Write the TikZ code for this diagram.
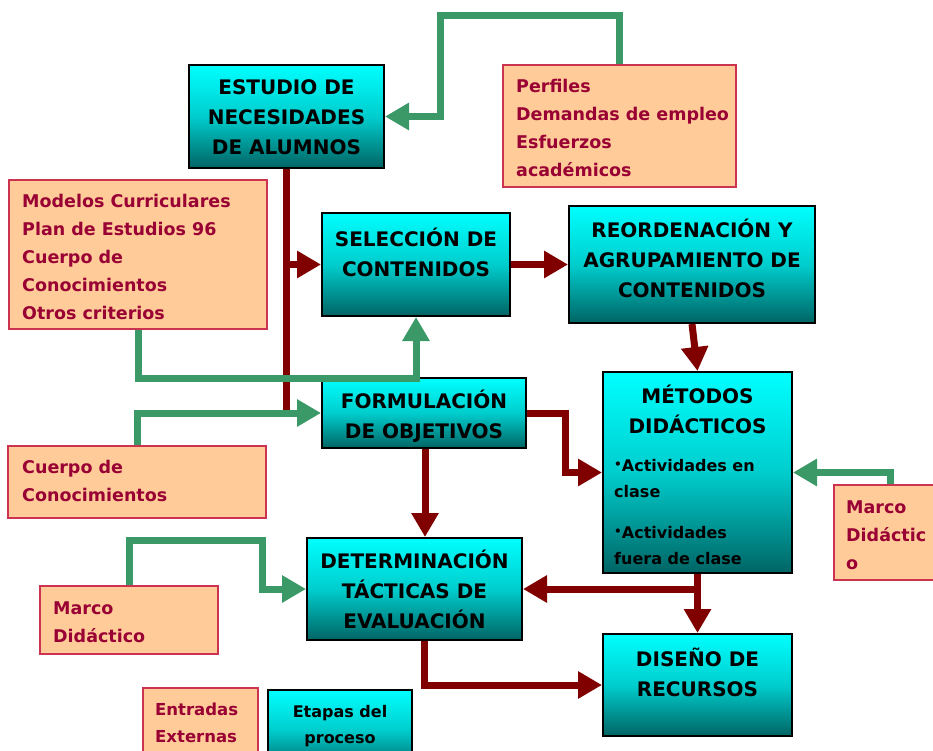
\documentclass[tikz,border=0pt]{standalone}
\usepackage{fontspec}
\setmainfont{DejaVu Sans}
\usetikzlibrary{arrows.meta}
\definecolor{gr}{RGB}{58,153,102}
\definecolor{dr}{RGB}{128,0,0}
\definecolor{orf}{RGB}{255,204,153}
\definecolor{ord}{RGB}{204,51,80}
\definecolor{ortx}{RGB}{153,0,51}
\definecolor{tealb}{RGB}{0,100,100}
\definecolor{tealm}{RGB}{0,205,205}
\tikzset{
  cbox/.style={draw=black, line width=2pt, top color=cyan, bottom color=tealb, middle color=tealm, inner sep=0pt},
  obox/.style={draw=ord, line width=1.2pt, fill=orf, inner sep=0pt},
  ctext/.style={font=\bfseries\fontsize{20}{30}\selectfont, align=center, text=black, inner sep=0pt},
  otext/.style={font=\bfseries\fontsize{17.5}{28}\selectfont, align=left, text=ortx, inner sep=0pt, anchor=west},
  garrow/.style={draw=gr, line width=7pt, -{Triangle[length=24pt,width=26pt]}},
  rarrow/.style={draw=dr, line width=7pt, -{Triangle[length=24pt,width=26pt]}},
  rline/.style={draw=dr, line width=7pt},
}
\newcommand\bul{\raisebox{3pt}{\fontsize{12}{12}\selectfont•}}
\begin{document}
\begin{tikzpicture}[x=1pt,y=-1pt]
\useasboundingbox (0,0) rectangle (933,751);
\clip (0,0) rectangle (933,751);
% boxes
\node[cbox, minimum width=195pt, minimum height=103pt] (est) at (286.5,116.5) {};
\node[obox, minimum width=233pt, minimum height=122pt] (perf) at (619.5,126) {};
\node[obox, minimum width=258pt, minimum height=149pt] (mod) at (138,254.5) {};
\node[cbox, minimum width=188pt, minimum height=103pt] (sel) at (416,264.5) {};
\node[cbox, minimum width=246pt, minimum height=117pt] (reo) at (692,264.5) {};
\node[cbox, minimum width=204pt, minimum height=70pt] (form) at (424,413) {};
\node[cbox, minimum width=189pt, minimum height=201pt] (met) at (697.5,472.5) {};
\node[obox, minimum width=258pt, minimum height=72pt] (cue) at (137,482) {};
\node[obox, minimum width=106pt, minimum height=95pt] (marR) at (887,532.5) {};
\node[cbox, minimum width=215pt, minimum height=102pt] (det) at (414.5,589) {};
\node[obox, minimum width=178pt, minimum height=68pt] (marL) at (129,620) {};
\node[cbox, minimum width=189pt, minimum height=102pt] (dis) at (697.5,685) {};
\node[obox, minimum width=115pt, minimum height=80pt] (ent) at (200.5,728) {};
\node[cbox, minimum width=144pt, minimum height=80pt] (eta) at (340,730) {};
% texts
\node[ctext] (est-t) at (286.5,117) {ESTUDIO DE\\NECESIDADES\\DE ALUMNOS};
\node[otext] (perf-t) at (516,128) {Perfiles\\Demandas de empleo\\Esfuerzos\\académicos};
\node[otext] (mod-t) at (22,257) {Modelos Curriculares\\Plan de Estudios 96\\Cuerpo de\\Conocimientos\\Otros criterios};
\node[ctext] (sel-t) at (416,252) {SELECCIÓN DE\\CONTENIDOS};
\node[ctext] (reo-t) at (692,258) {REORDENACIÓN Y\\AGRUPAMIENTO DE\\CONTENIDOS};
\node[ctext] (form-t) at (424,416) {FORMULACIÓN\\DE OBJETIVOS};
\node[ctext] (met-t) at (697.5,409.5) {MÉTODOS\\DIDÁCTICOS};
\node[ctext, font=\bfseries\fontsize{16}{26}\selectfont, align=left, anchor=west] (met-b) at (614,512.5)
  {\bul Actividades en\\clase\\[15pt]\bul Actividades\\fuera de clase};
\node[otext] (cue-t) at (22,481) {Cuerpo de\\Conocimientos};
\node[otext] (marR-t) at (846,535) {Marco\\Didáctic\\o};
\node[ctext] (det-t) at (414.5,589) {DETERMINACIÓN\\TÁCTICAS DE\\EVALUACIÓN};
\node[otext] (marL-t) at (53,622) {Marco\\Didáctico};
\node[ctext] (dis-t) at (697.5,672) {DISEÑO DE\\RECURSOS};
\node[otext, font=\bfseries\fontsize{16.5}{27}\selectfont] (ent-t) at (155,722.5) {Entradas\\Externas};
\node[ctext, font=\bfseries\fontsize{16}{26}\selectfont] (eta-t) at (340,726) {Etapas del\\proceso};
% red connectors
\draw[rline] (est.south) -- (est.south |- 0,410);
\draw[rarrow] (est.south |- sel.west) -- (sel.west);
\draw[rarrow] (sel.east) -- (reo.west);
\draw[rarrow] (reo.south) -- (met.north);
\draw[rarrow] (form.east) -- (565,413) |- (met.west);
\draw[rarrow] ([xshift=1pt]form.south) -- ([xshift=1pt]form.south |- det.north);
\draw[rarrow] (met.south) -- (dis.north);
\draw[rarrow] (met.south |- det.east) -- (det.east);
\draw[rarrow] ([xshift=10pt]det.south) |- (dis.west);
% green connectors
\draw[garrow] (perf.north) |- (440,16) |- (est.east);
\draw[garrow] (mod.south) |- (sel.south |- 0,378) -- (sel.south);
\draw[garrow] (cue.north) |- (form.west);
\draw[garrow] ([xshift=3pt]marR.north) |- (met.east);
\draw[garrow] (marL.north) |- (262,540) |- (det.west);
\end{tikzpicture}
\end{document}
